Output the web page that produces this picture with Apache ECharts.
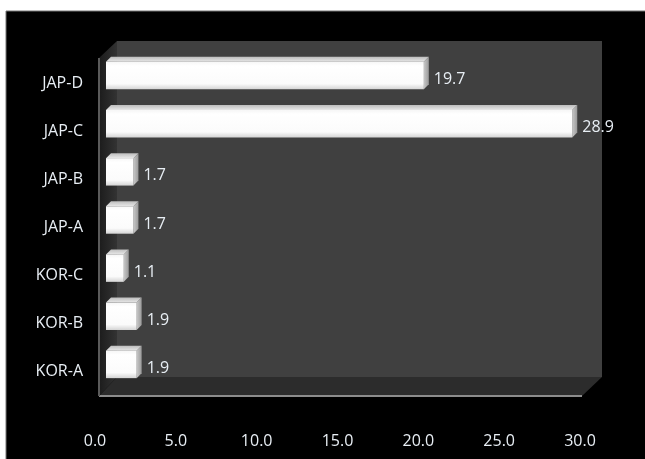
<!DOCTYPE html>
<html>
<head>
<meta charset="utf-8">
<script src="https://cdn.jsdelivr.net/npm/echarts@6/dist/echarts.min.js"></script>
<style>
html, body { margin: 0; padding: 0; background: #fff; }
#main { width: 645px; height: 459px; }
</style>
</head>
<body>
<div id="main"></div>
<script>
// 数据
var categories = ['KOR-A', 'KOR-B', 'KOR-C', 'JAP-A', 'JAP-B', 'JAP-C', 'JAP-D'];
var values = [1.9, 1.9, 1.1, 1.7, 1.7, 28.9, 19.7];
var xTicks = [0, 5, 10, 15, 20, 25, 30];

var myChart = echarts.init(document.getElementById('main'));

var textColor = '#e8eef4';
var fontName = 'Open Sans';

// 3D bar drawn from the axis scales
function renderBar(params, api) {
    var idx = api.value(0);
    var val = api.value(1);
    var p0 = api.coord([0, idx]);
    var p1 = api.coord([val, idx]);
    var h = api.size([0, 1])[1] * 0.57;
    var d = 5;
    var x0 = p0[0], x1 = p1[0];
    var yT = p0[1] - h / 2, yB = p0[1] + h / 2;
    return {
        type: 'group',
        children: [
            {
                type: 'polygon',
                shape: { points: [[x0, yT], [x0 + d, yT - d], [x1 + d, yT - d], [x1, yT]] },
                style: { fill: new echarts.graphic.LinearGradient(0, 0, 0, 1, [
                    { offset: 0, color: '#bdbdbd' }, { offset: 1, color: '#e8e8e8' }]) }
            },
            {
                type: 'polygon',
                shape: { points: [[x1, yT], [x1 + d, yT - d], [x1 + d, yB - d], [x1, yB]] },
                style: { fill: new echarts.graphic.LinearGradient(0, 0, 1, 0, [
                    { offset: 0, color: '#c8c8c8' }, { offset: 1, color: '#9a9a9a' }]) }
            },
            {
                type: 'rect',
                shape: { x: x0, y: yT, width: x1 - x0, height: h },
                style: { fill: new echarts.graphic.LinearGradient(0, 0, 0, 1, [
                    { offset: 0, color: '#f6f6f6' }, { offset: 0.15, color: '#ffffff' },
                    { offset: 0.8, color: '#fbfbfb' }, { offset: 1, color: '#d4d4d4' }]) }
            },
            {
                type: 'text',
                style: {
                    text: val.toFixed(1),
                    x: x1 + d + 5,
                    y: p0[1] + 4,
                    fill: textColor,
                    font: '16px "' + fontName + '"',
                    verticalAlign: 'middle',
                    align: 'left'
                }
            }
        ]
    };
}

option = {
    backgroundColor: '#ffffff',
    animation: false,
    graphic: [
        { type: 'rect', z: -10, shape: { x: 6, y: 11, width: 640, height: 449 },
          style: { fill: '#000000', stroke: '#777777', lineWidth: 1 } },
        // back wall
        { type: 'rect', z: -9, shape: { x: 117, y: 41, width: 485, height: 336 },
          style: { fill: '#404040' } },
        // floor
        { type: 'polygon', z: -9, shape: { points: [[117, 377], [602, 377], [582, 396], [99, 396]] },
          style: { fill: '#2c2c2c' } },
        { type: 'line', z: -8, shape: { x1: 99, y1: 396, x2: 582, y2: 396 },
          style: { stroke: '#8c8c8c', lineWidth: 2 } },
        // side wall
        { type: 'polygon', z: -9, shape: { points: [[99, 58], [117, 41], [117, 377], [99, 396]] },
          style: { fill: new echarts.graphic.LinearGradient(0, 0, 1, 0, [
              { offset: 0, color: '#1c1c1c' }, { offset: 1, color: '#333333' }]) } },
        { type: 'line', z: -8, shape: { x1: 99, y1: 58, x2: 99, y2: 396 },
          style: { stroke: '#5a5a5a', lineWidth: 2 } }
    ],
    grid: [
        { left: 106, top: 51.5, width: 484, height: 337 },
        { left: 95, top: 59, width: 485, height: 337 }
    ],
    xAxis: [
        { type: 'value', gridIndex: 0, min: 0, max: 30, interval: 5, show: false },
        {
            type: 'value', gridIndex: 1, min: xTicks[0], max: xTicks[xTicks.length - 1], interval: 5,
            axisLine: { show: false }, axisTick: { show: false }, splitLine: { show: false },
            axisLabel: {
                color: textColor, fontFamily: fontName, fontSize: 16, margin: 37,
                formatter: function (v) { return v.toFixed(1); }
            }
        }
    ],
    yAxis: [
        { type: 'category', gridIndex: 0, data: categories, show: false },
        {
            type: 'category', gridIndex: 1, data: categories,
            axisLine: { show: false }, axisTick: { show: false }, splitLine: { show: false },
            axisLabel: { color: textColor, fontFamily: fontName, fontSize: 16, margin: 12 }
        }
    ],
    series: [
        {
            type: 'custom',
            xAxisIndex: 0,
            yAxisIndex: 0,
            renderItem: renderBar,
            encode: { x: 1, y: 0 },
            data: values.map(function (v, i) { return [i, v]; })
        }
    ]
};

myChart.setOption(option);
</script>
</body>
</html>
